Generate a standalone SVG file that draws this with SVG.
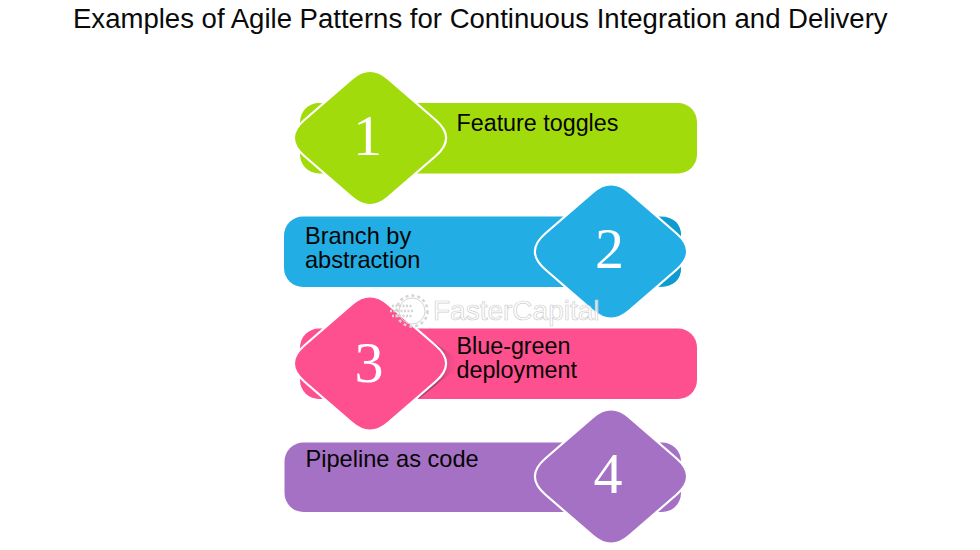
<svg xmlns="http://www.w3.org/2000/svg" width="980" height="550" viewBox="0 0 980 550">
  <style>
    .title { font: 27.55px "Liberation Sans", Arial, sans-serif; fill: #0a0a0a; }
    .label { font: 23.3px "Liberation Sans", Arial, sans-serif; fill: #050505; }
    .label.wide { font-size: 23.6px; }
    .num { font: 58px "Liberation Serif", "Times New Roman", serif; fill: #ffffff; text-anchor: middle; }
    .badge { stroke: #ffffff; stroke-width: 2.2; }
    .mark { font: 28px "Liberation Sans", Arial, sans-serif; fill: #ffffff; fill-opacity: 0.75; stroke: #cfcfcf; stroke-width: 0.7; }
    .gear { fill: none; stroke: #d4d4d4; }
    .green { fill: #a2db0b; }
    .blue { fill: #22ade4; }
    .pink { fill: #fe4f8f; }
    .purple { fill: #a571c4; }
  </style>
  <defs>
    <path id="diamond" d="M-18,-59.4 Q0,-75 18,-59.4 L65.7,-18 Q86.500,0 65.700,18 L18,59.400 Q0,75 -18,59.400 L-65.700,18 Q-86.500,0 -65.700,-18 Z"/>
    <linearGradient id="fold" gradientUnits="userSpaceOnUse" x1="435" x2="460" y1="0" y2="0">
      <stop offset="0" stop-color="#9c3d69" stop-opacity="0.95"/>
      <stop offset="1" stop-color="#fe4f8f" stop-opacity="0"/>
    </linearGradient>
  </defs>
  <rect width="980" height="550" fill="#ffffff"/>
  <text class="title" x="73" y="28">Examples of Agile Patterns for Continuous Integration and Delivery</text>

  <g id="node-1">
    <rect class="green" x="300" y="103" width="397" height="70.500" rx="19"/>
    <use href="#diamond" class="green badge" x="370" y="138"/>
    <text class="num" x="367.500" y="154.500">1</text>
    <text class="label" x="456.500" y="131">Feature toggles</text>
  </g>

  <g id="node-2">
    <rect class="blue" x="284" y="216.500" width="397" height="70.500" rx="19"/>
    <path d="M660,217 Q681,217 681,236 V240 L660,219 Z M660,286 Q681,286 681,268 V262 L660,284 Z" fill="#0f9bd0"/>
    <use href="#diamond" class="blue badge" x="611" y="251.500"/>
    <text class="num" x="609.500" y="267.500">2</text>
    <text class="label wide" x="305" y="244">Branch by</text>
    <text class="label wide" x="305" y="268">abstraction</text>
  </g>

  <g id="node-3">
    <rect class="pink" x="300" y="328.500" width="397" height="70.500" rx="19"/>
    <path d="M423,335 L457,358 V368 L420,398 L400,398 V335 Z" fill="url(#fold)"/>
    <use href="#diamond" class="pink badge" x="370" y="363.500"/>
    <text class="num" x="369" y="381.500">3</text>
    <text class="label" x="456.500" y="354">Blue-green</text>
    <text class="label" x="456.500" y="378">deployment</text>
  </g>

  <g id="node-4">
    <rect class="purple" x="284.500" y="442.500" width="396.500" height="69.500" rx="19"/>
    <use href="#diamond" class="purple badge" x="611" y="476.500"/>
    <text class="num" x="608" y="493">4</text>
    <text class="label wide" x="305.500" y="467">Pipeline as code</text>
  </g>

  <g id="connectors"></g>

  <!-- brand mark laid over the bars -->
  <g id="watermark">
    <circle class="gear" cx="412" cy="311" r="13" stroke-width="1"/>
    <circle class="gear" cx="412" cy="311" r="15.500" stroke-width="2.500" stroke-dasharray="3 3"/>
    <path class="gear" d="M392,306h20M390,311h24M392,316h20" stroke-width="2.500" stroke-dasharray="2 1.500"/>
    <text class="mark" x="433" y="320">FasterCapital</text>
  </g>
</svg>
